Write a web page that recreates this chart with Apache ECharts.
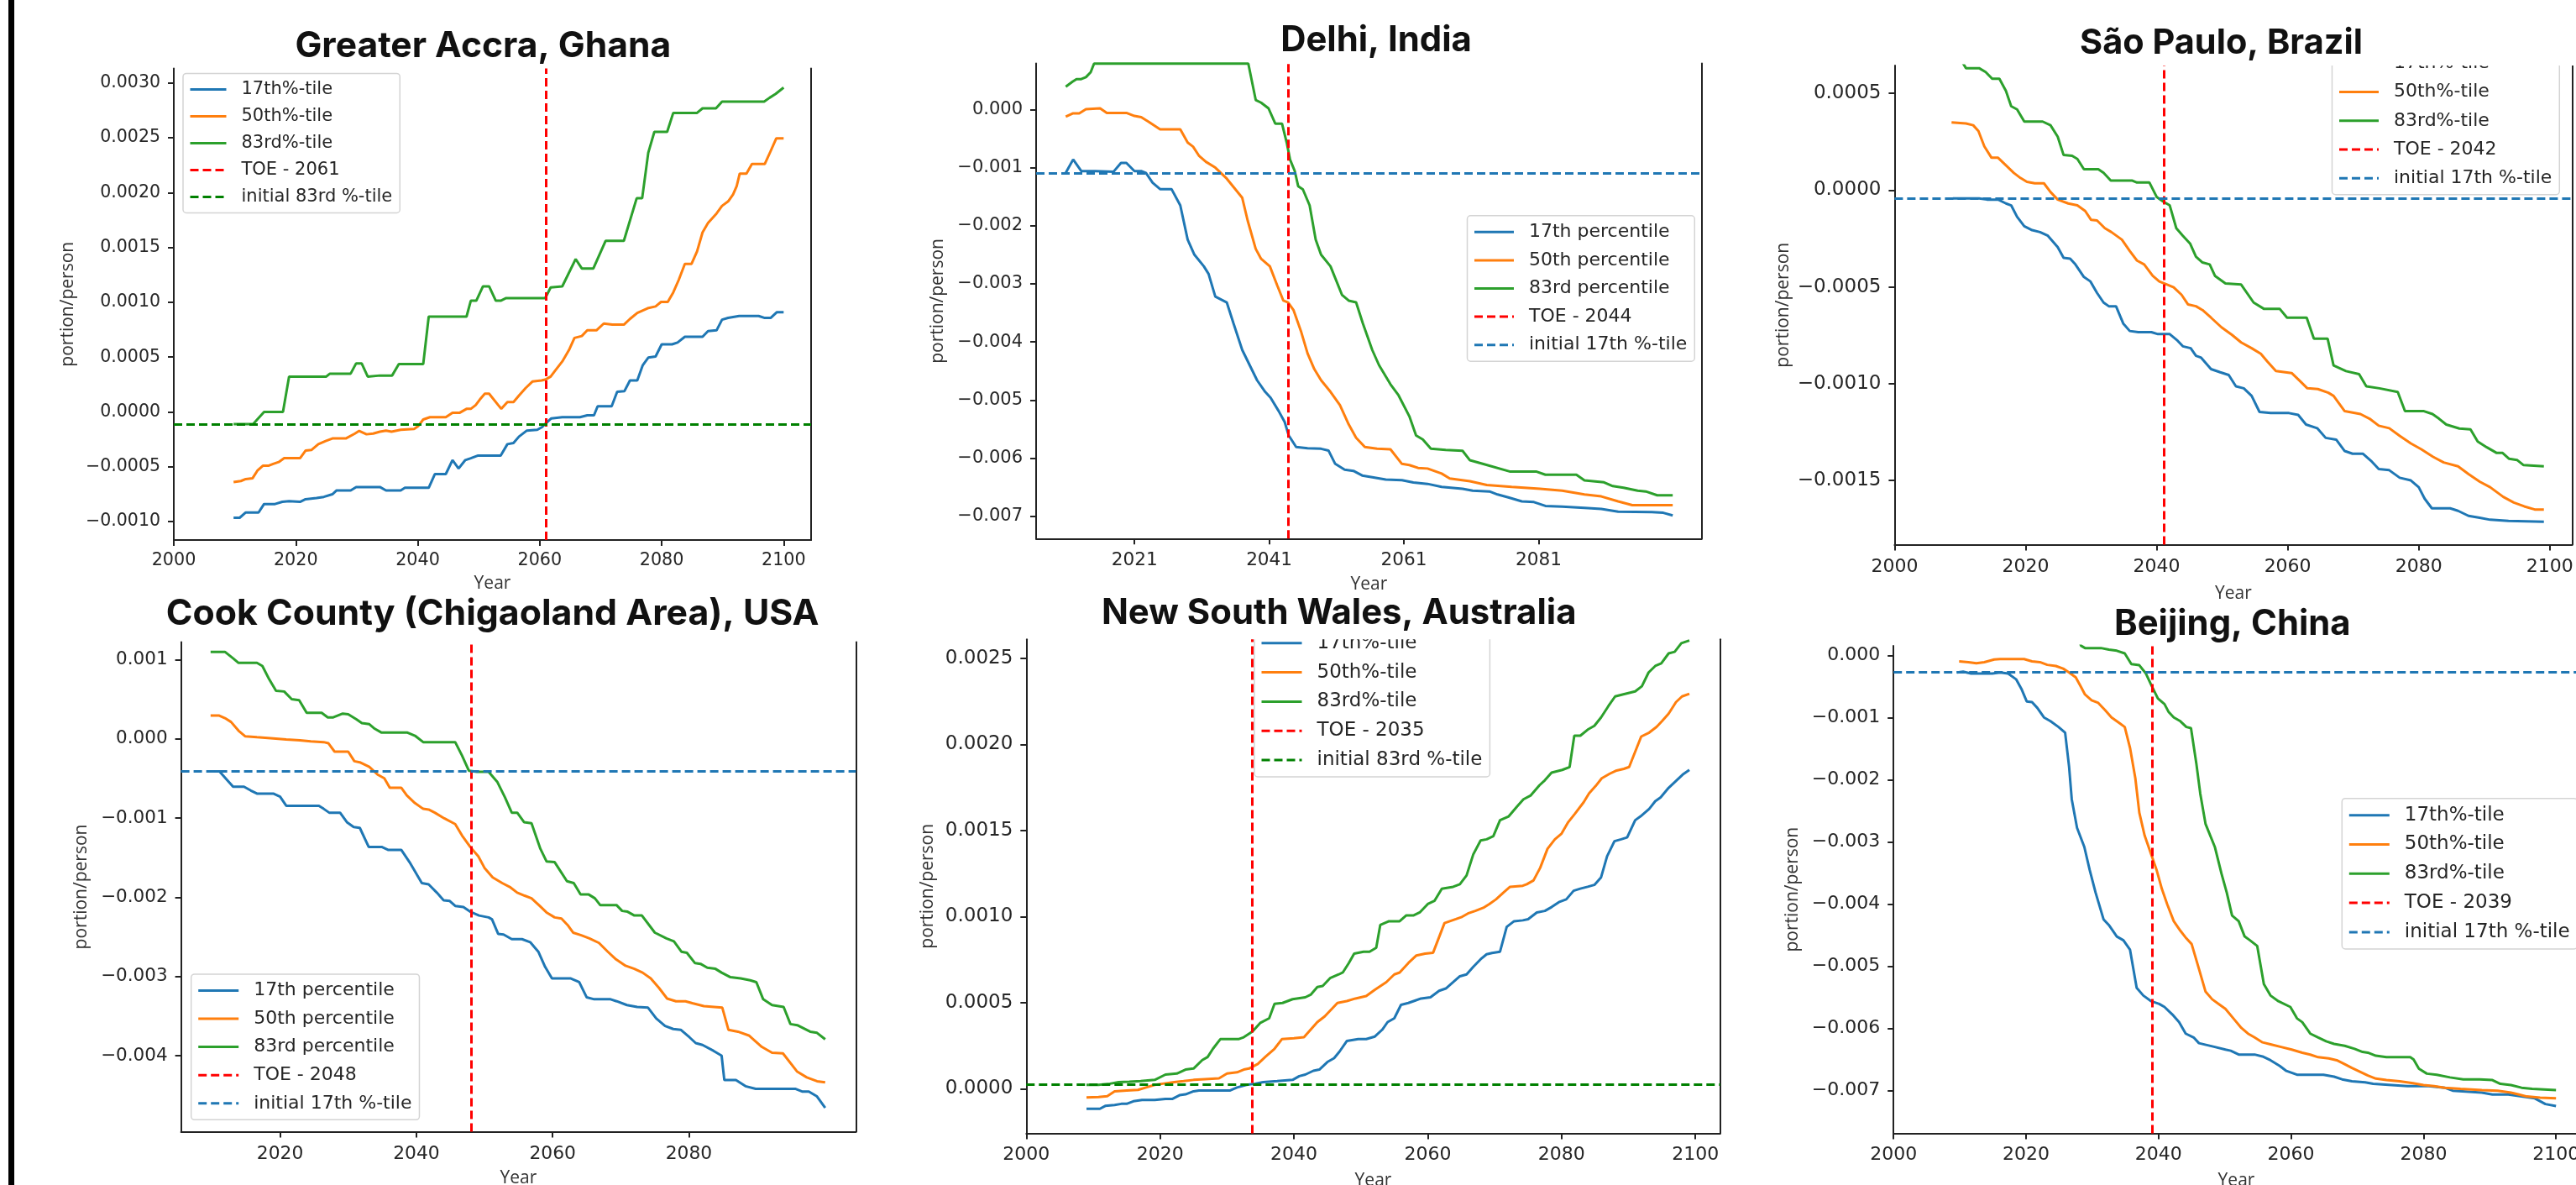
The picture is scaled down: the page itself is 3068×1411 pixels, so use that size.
<!DOCTYPE html>
<html><head><meta charset="utf-8">
<script src="https://cdn.jsdelivr.net/npm/echarts@6/dist/echarts.min.js"></script>
<style>html,body{margin:0;padding:0;background:#fff}#c{width:3068px;height:1411px}</style>
</head><body><div id="c"></div>
<script>
// ---------------- DATA ----------------
const titles = ['Greater Accra, Ghana','Delhi, India','São Paulo, Brazil','Cook County (Chigaoland Area), USA','New South Wales, Australia','Beijing, China'];
const pctNames = [
  ['17th%-tile','50th%-tile','83rd%-tile'],
  ['17th percentile','50th percentile','83rd percentile'],
  ['17th%-tile','50th%-tile','83rd%-tile'],
  ['17th percentile','50th percentile','83rd percentile'],
  ['17th%-tile','50th%-tile','83rd%-tile'],
  ['17th%-tile','50th%-tile','83rd%-tile']];
const toeYears = [2061, 2044, 2042, 2048, 2035, 2039];
const toeLineX = [2061, 2043.8, 2041.1, 2048, 2033.8, 2039.1];
const refNames = ['initial 83rd %-tile','initial 17th %-tile','initial 17th %-tile','initial 17th %-tile','initial 83rd %-tile','initial 17th %-tile'];
const refY = [-0.000111, -0.001093, -0.0000434, -0.000413, 0.0000224, -0.00027];
const xTicks = [
  [2000,2020,2040,2060,2080,2100],
  [2021,2041,2061,2081],
  [2000,2020,2040,2060,2080,2100],
  [2020,2040,2060,2080],
  [2000,2020,2040,2060,2080,2100],
  [2000,2020,2040,2060,2080,2100]];
const yTicks = [
  [-0.0010,-0.0005,0.0000,0.0005,0.0010,0.0015,0.0020,0.0025,0.0030],
  [-0.007,-0.006,-0.005,-0.004,-0.003,-0.002,-0.001,0.000],
  [-0.0015,-0.0010,-0.0005,0.0000,0.0005],
  [-0.004,-0.003,-0.002,-0.001,0.000,0.001],
  [0.0000,0.0005,0.0010,0.0015,0.0020,0.0025],
  [-0.007,-0.006,-0.005,-0.004,-0.003,-0.002,-0.001,0.000]];
const yDecimals = [4,3,4,3,4,3];

const accra17 = [[2009.8,-0.000965],[2010.8,-0.000965],[2011.8,-0.000917],[2013.9,-0.000917],[2014.8,-0.00084],[2016.6,-0.00084],[2017.8,-0.00082],[2018.9,-0.000813],[2020.7,-0.00082],[2021.6,-0.000796],[2023.4,-0.000785],[2024.6,-0.000775],[2026.0,-0.000751],[2026.7,-0.000716],[2029.0,-0.000716],[2029.9,-0.000685],[2033.8,-0.000685],[2034.8,-0.000716],[2037.2,-0.000716],[2037.9,-0.000692],[2041.8,-0.000692],[2042.8,-0.000567],[2044.6,-0.000567],[2045.7,-0.000439],[2046.7,-0.000516],[2047.8,-0.000439],[2048.7,-0.000422],[2049.9,-0.000398],[2053.6,-0.000398],[2054.7,-0.000294],[2055.7,-0.000284],[2056.6,-0.000225],[2057.9,-0.00017],[2059.6,-0.000163],[2060.4,-0.000138],[2061.0,-0.000104],[2061.9,-0.000059],[2063.7,-0.000048],[2066.6,-0.000048],[2067.8,-0.000031],[2068.9,-0.000031],[2069.5,0.000052],[2071.8,0.000052],[2072.7,0.000183],[2073.9,0.00019],[2074.8,0.000287],[2076.0,0.000287],[2076.9,0.000426],[2077.8,0.000495],[2079.0,0.000505],[2080.0,0.000616],[2081.7,0.000616],[2082.6,0.000633],[2083.8,0.000685],[2086.7,0.000685],[2087.6,0.000737],[2089.0,0.000744],[2089.9,0.000841],[2090.9,0.000858],[2092.7,0.000875],[2095.9,0.000875],[2096.8,0.000858],[2097.9,0.000858],[2098.9,0.00091],[2100.0,0.00091]];
const accra50 = [[2009.8,-0.00064],[2011.0,-0.00063],[2011.8,-0.000612],[2012.9,-0.000606],[2013.7,-0.000536],[2014.6,-0.000491],[2015.5,-0.000491],[2016.3,-0.000474],[2017.2,-0.000457],[2018.1,-0.000422],[2020.7,-0.000422],[2021.6,-0.000353],[2022.6,-0.000346],[2023.7,-0.000294],[2024.9,-0.000266],[2026.0,-0.000242],[2028.2,-0.000242],[2029.7,-0.000197],[2030.4,-0.000173],[2031.6,-0.000204],[2032.7,-0.000197],[2033.8,-0.00018],[2034.8,-0.00017],[2035.7,-0.00018],[2037.2,-0.000163],[2039.4,-0.000156],[2040.1,-0.000128],[2040.9,-0.000069],[2042.0,-0.000048],[2044.6,-0.000048],[2045.7,-0.000007],[2046.9,-0.000007],[2048.0,0.000028],[2048.7,0.000028],[2049.5,0.000062],[2050.2,0.000114],[2051.0,0.000166],[2051.7,0.000166],[2053.2,0.000062],[2053.7,0.000028],[2054.7,0.00009],[2055.7,0.00009],[2056.6,0.000149],[2057.7,0.000218],[2058.8,0.000277],[2060.3,0.000287],[2060.9,0.000294],[2061.8,0.000322],[2062.5,0.000374],[2063.7,0.00046],[2064.8,0.000564],[2065.7,0.000675],[2066.9,0.000692],[2067.8,0.000744],[2069.3,0.000744],[2070.5,0.000806],[2071.9,0.000796],[2073.8,0.000796],[2074.8,0.000848],[2076.0,0.000903],[2077.7,0.000945],[2079.0,0.000962],[2079.9,0.001003],[2081.0,0.001003],[2081.9,0.00109],[2082.8,0.001204],[2083.8,0.00135],[2084.9,0.00135],[2085.8,0.001464],[2086.7,0.001637],[2087.6,0.001723],[2089.0,0.00181],[2089.9,0.001879],[2090.9,0.00192],[2091.7,0.001983],[2092.3,0.002059],[2092.8,0.002173],[2093.9,0.002173],[2094.8,0.00226],[2096.9,0.00226],[2097.8,0.00237],[2098.8,0.002495],[2100.0,0.002495]];
const accra83 = [[2009.8,-0.000111],[2013.0,-0.000111],[2014.8,0.0],[2017.9,0.0],[2018.9,0.000322],[2025.0,0.000322],[2025.6,0.000349],[2029.0,0.000349],[2029.9,0.000443],[2030.8,0.000443],[2031.8,0.000322],[2033.8,0.000332],[2035.8,0.000332],[2036.9,0.000436],[2040.9,0.000436],[2041.8,0.000869],[2048.0,0.000869],[2048.7,0.001014],[2049.6,0.001014],[2050.7,0.001145],[2051.7,0.001145],[2052.8,0.001014],[2053.6,0.001014],[2054.5,0.001038],[2060.9,0.001038],[2061.8,0.001135],[2063.7,0.001145],[2065.9,0.001394],[2066.9,0.001308],[2068.8,0.001308],[2070.8,0.00156],[2073.8,0.00156],[2075.9,0.001948],[2076.8,0.001948],[2077.8,0.002363],[2078.8,0.002554],[2080.9,0.002554],[2081.9,0.002727],[2085.8,0.002727],[2086.7,0.002768],[2088.9,0.002768],[2089.9,0.00283],[2096.8,0.00283],[2097.7,0.002865],[2098.7,0.0029],[2100.0,0.002958]];

const delhi17 = [[2010.8,-0.00109],[2011.9,-0.00086],[2013.1,-0.00106],[2015.2,-0.00106],[2017.9,-0.00107],[2019.0,-0.00092],[2019.8,-0.00092],[2021.0,-0.00106],[2022.0,-0.00106],[2022.7,-0.00109],[2023.7,-0.00126],[2024.8,-0.00137],[2026.5,-0.00137],[2027.8,-0.00165],[2028.9,-0.00224],[2029.9,-0.0025],[2031.3,-0.0027],[2032.0,-0.00283],[2033.0,-0.00322],[2034.7,-0.00332],[2035.7,-0.00368],[2037.0,-0.00414],[2038.1,-0.0044],[2039.2,-0.00466],[2040.4,-0.00486],[2041.2,-0.00496],[2042.4,-0.00519],[2043.3,-0.00538],[2043.9,-0.00561],[2045.0,-0.00581],[2046.7,-0.00583],[2048.7,-0.00584],[2049.8,-0.00587],[2050.8,-0.0061],[2052.2,-0.0062],[2053.5,-0.00622],[2054.8,-0.0063],[2056.3,-0.00633],[2058.3,-0.00637],[2060.7,-0.00638],[2062.4,-0.00642],[2064.5,-0.006444],[2066.6,-0.006496],[2069.7,-0.006529],[2071.2,-0.006562],[2073.7,-0.006575],[2074.9,-0.006627],[2076.6,-0.00668],[2078.5,-0.006745],[2080.3,-0.006758],[2082.0,-0.006824],[2084.5,-0.006837],[2087.8,-0.006857],[2090.3,-0.006876],[2092.8,-0.006922],[2097.8,-0.006929],[2099.5,-0.006942],[2100.9,-0.006988]];
const delhi50 = [[2010.8,-0.000124],[2011.9,-0.000066],[2012.8,-0.000066],[2013.8,0.000007],[2015.9,0.00002],[2016.9,-0.000059],[2019.8,-0.000059],[2021.0,-0.000111],[2022.0,-0.000131],[2023.1,-0.00021],[2024.8,-0.00034],[2027.8,-0.00034],[2028.9,-0.00057],[2029.7,-0.00064],[2030.6,-0.0008],[2031.6,-0.0009],[2033.0,-0.001],[2034.7,-0.00119],[2037.0,-0.00152],[2037.8,-0.00191],[2039.0,-0.0024],[2039.8,-0.00257],[2041.1,-0.0027],[2042.2,-0.00303],[2043.1,-0.00329],[2043.8,-0.00332],[2044.6,-0.00345],[2045.7,-0.00381],[2046.7,-0.0042],[2047.7,-0.00447],[2048.7,-0.00466],[2050.1,-0.00486],[2051.5,-0.00509],[2052.8,-0.00542],[2053.9,-0.00565],[2055.2,-0.00581],[2057.0,-0.00584],[2059.0,-0.00585],[2060.7,-0.0061],[2061.8,-0.00612],[2063.1,-0.00617],[2064.5,-0.00618],[2066.6,-0.006267],[2067.8,-0.006352],[2070.8,-0.006398],[2073.3,-0.006464],[2077.0,-0.006496],[2081.2,-0.006529],[2084.5,-0.006562],[2087.8,-0.006627],[2090.3,-0.00666],[2092.8,-0.006745],[2094.9,-0.006811],[2100.9,-0.006811]];
const delhi83 = [[2010.8,0.000393],[2011.8,0.000478],[2012.4,0.000524],[2013.1,0.000524],[2013.8,0.000557],[2014.5,0.000642],[2015.0,0.00079],[2037.9,0.00079],[2039.0,0.000164],[2039.8,0.000118],[2040.9,0.00002],[2041.9,-0.000242],[2042.9,-0.000242],[2043.6,-0.00057],[2044.1,-0.000864],[2044.8,-0.00106],[2045.3,-0.00132],[2046.0,-0.001375],[2047.0,-0.00165],[2047.9,-0.00224],[2048.7,-0.0025],[2050.1,-0.0027],[2051.8,-0.00319],[2052.8,-0.00329],[2053.9,-0.00332],[2054.9,-0.00368],[2056.3,-0.00414],[2057.3,-0.0044],[2059.0,-0.00473],[2060.2,-0.00492],[2061.8,-0.00528],[2062.8,-0.00561],[2063.8,-0.00568],[2065.0,-0.00584],[2067.2,-0.00586],[2069.7,-0.005874],[2070.8,-0.006038],[2072.8,-0.006103],[2076.8,-0.006234],[2080.7,-0.006234],[2082.0,-0.006287],[2086.6,-0.006287],[2087.8,-0.006385],[2090.7,-0.006418],[2092.0,-0.006483],[2093.6,-0.00651],[2095.7,-0.006562],[2096.9,-0.006575],[2098.6,-0.006641],[2100.9,-0.006641]];

const sp17 = [[2008.9,-0.000043],[2012.9,-0.000043],[2014.1,-0.000049],[2015.8,-0.000049],[2017.0,-0.000069],[2017.8,-0.000079],[2018.7,-0.000138],[2019.8,-0.000187],[2021.0,-0.000207],[2022.2,-0.000217],[2023.4,-0.000236],[2024.9,-0.000295],[2025.8,-0.00035],[2026.8,-0.000354],[2027.6,-0.000384],[2028.9,-0.000449],[2029.9,-0.000472],[2030.9,-0.000531],[2031.9,-0.000581],[2032.7,-0.0006],[2033.8,-0.0006],[2034.9,-0.000689],[2035.9,-0.000728],[2037.2,-0.000734],[2039.2,-0.000734],[2040.2,-0.000744],[2042.0,-0.000744],[2043.2,-0.000778],[2044.0,-0.000807],[2045.2,-0.000817],[2046.0,-0.000856],[2046.8,-0.000866],[2048.3,-0.000925],[2049.7,-0.000941],[2051.0,-0.000955],[2052.1,-0.001014],[2053.3,-0.001024],[2054.5,-0.001063],[2055.7,-0.001146],[2057.4,-0.001152],[2060.2,-0.001152],[2061.6,-0.001161],[2062.8,-0.001211],[2064.5,-0.00123],[2065.8,-0.00128],[2067.4,-0.001289],[2068.7,-0.001348],[2069.9,-0.001362],[2071.5,-0.001362],[2072.7,-0.001398],[2073.9,-0.001441],[2075.5,-0.001447],[2077.1,-0.001486],[2078.8,-0.0015],[2080.0,-0.001535],[2080.9,-0.001594],[2082.0,-0.001644],[2084.8,-0.001644],[2086.0,-0.001657],[2087.6,-0.001683],[2089.3,-0.001693],[2090.9,-0.001703],[2093.7,-0.001709],[2099.1,-0.001713]];
const sp50 = [[2008.7,0.00035],[2010.9,0.000344],[2012.0,0.000335],[2012.8,0.000305],[2013.7,0.000226],[2014.8,0.000167],[2015.8,0.000167],[2017.0,0.000128],[2018.2,0.000089],[2019.2,0.000063],[2020.2,0.000043],[2021.4,0.000035],[2022.8,0.000035],[2023.8,-0.00001],[2024.9,-0.000049],[2026.5,-0.000069],[2027.9,-0.000079],[2029.1,-0.000108],[2030.0,-0.000154],[2030.9,-0.000157],[2032.1,-0.000197],[2033.1,-0.000217],[2034.7,-0.000256],[2035.9,-0.000315],[2037.0,-0.000364],[2038.1,-0.000384],[2039.4,-0.000443],[2040.4,-0.000472],[2041.6,-0.000488],[2042.6,-0.000502],[2043.8,-0.000541],[2044.8,-0.000591],[2046.0,-0.0006],[2047.0,-0.00062],[2048.3,-0.000659],[2049.9,-0.000709],[2051.5,-0.000748],[2052.9,-0.000787],[2054.5,-0.000817],[2055.9,-0.000846],[2056.9,-0.000886],[2058.2,-0.000935],[2060.6,-0.000945],[2061.8,-0.000984],[2063.0,-0.001024],[2064.6,-0.001028],[2066.2,-0.001047],[2067.0,-0.001063],[2068.7,-0.001142],[2071.1,-0.001157],[2072.5,-0.001181],[2073.9,-0.001217],[2075.5,-0.00123],[2077.1,-0.00127],[2078.8,-0.001309],[2080.4,-0.001339],[2082.2,-0.001378],[2083.8,-0.001407],[2086.0,-0.001427],[2087.6,-0.001467],[2089.3,-0.001506],[2090.9,-0.001535],[2092.9,-0.001585],[2094.5,-0.001614],[2096.1,-0.001634],[2097.7,-0.00165],[2099.1,-0.00165]];
const sp83 = [[2010.0,0.00068],[2010.9,0.00063],[2012.9,0.00063],[2013.9,0.00061],[2014.9,0.000575],[2016.0,0.000575],[2017.0,0.000512],[2017.8,0.000433],[2018.7,0.000417],[2019.8,0.000354],[2022.6,0.000354],[2023.8,0.000335],[2024.9,0.000276],[2025.8,0.000181],[2027.1,0.000177],[2027.9,0.000161],[2028.9,0.000108],[2031.1,0.000108],[2031.9,0.000089],[2033.0,0.000049],[2036.3,0.000049],[2037.0,0.000039],[2038.9,0.000039],[2040.0,-0.000035],[2041.0,-0.000059],[2042.0,-0.000079],[2043.0,-0.000197],[2044.0,-0.000236],[2045.1,-0.000276],[2046.0,-0.000344],[2047.0,-0.000374],[2048.1,-0.000384],[2048.9,-0.000443],[2050.5,-0.000482],[2052.9,-0.000488],[2054.8,-0.000581],[2056.4,-0.000614],[2058.8,-0.000614],[2059.9,-0.000659],[2062.9,-0.000659],[2064.0,-0.000768],[2066.1,-0.000768],[2067.0,-0.000906],[2068.9,-0.000935],[2070.9,-0.000951],[2072.0,-0.001014],[2074.0,-0.001024],[2076.8,-0.001043],[2077.9,-0.001142],[2080.8,-0.001142],[2082.1,-0.001157],[2083.1,-0.001181],[2084.2,-0.001211],[2086.2,-0.001232],[2087.9,-0.001236],[2089.0,-0.001299],[2090.4,-0.001329],[2091.9,-0.001358],[2092.8,-0.001358],[2093.8,-0.001388],[2095.0,-0.001394],[2096.0,-0.001421],[2099.1,-0.001427]];

const cook17 = [[2009.8,-0.000413],[2011.1,-0.000413],[2012.0,-0.0005],[2013.1,-0.000606],[2014.7,-0.000606],[2015.7,-0.000654],[2016.6,-0.000692],[2019.0,-0.000692],[2020.0,-0.000731],[2020.9,-0.000846],[2025.7,-0.000846],[2026.4,-0.000885],[2027.2,-0.000933],[2028.8,-0.000933],[2029.8,-0.001053],[2030.8,-0.001115],[2031.7,-0.001125],[2033.0,-0.001365],[2034.9,-0.001365],[2035.9,-0.001404],[2037.8,-0.001404],[2039.0,-0.001558],[2040.8,-0.001822],[2041.8,-0.001837],[2043.0,-0.001942],[2044.0,-0.002038],[2044.9,-0.002048],[2045.7,-0.00211],[2046.9,-0.002125],[2047.9,-0.002183],[2049.2,-0.002231],[2050.6,-0.002255],[2051.1,-0.002279],[2052.0,-0.002462],[2052.8,-0.002471],[2054.0,-0.002529],[2055.5,-0.002529],[2056.7,-0.002567],[2057.9,-0.002688],[2058.9,-0.00288],[2059.9,-0.003024],[2062.6,-0.003024],[2063.9,-0.003072],[2065.0,-0.003264],[2066.1,-0.003288],[2068.5,-0.003288],[2069.4,-0.003313],[2070.9,-0.003361],[2072.4,-0.003385],[2074.0,-0.003394],[2075.2,-0.003529],[2076.5,-0.003625],[2077.7,-0.003663],[2078.8,-0.003673],[2080.1,-0.003769],[2081.0,-0.003841],[2082.0,-0.003865],[2083.6,-0.003938],[2084.8,-0.004],[2085.2,-0.004308],[2086.9,-0.004308],[2088.3,-0.004385],[2089.8,-0.004418],[2095.6,-0.004418],[2096.6,-0.004452],[2097.6,-0.004452],[2098.8,-0.004514],[2100.0,-0.004659]];
const cook50 = [[2009.8,0.000293],[2011.0,0.000293],[2011.9,0.00026],[2012.8,0.000212],[2013.9,0.000101],[2014.9,0.000029],[2016.6,0.000019],[2019.0,0.000005],[2020.9,-0.00001],[2022.9,-0.000019],[2024.5,-0.000034],[2026.4,-0.000043],[2027.1,-0.000058],[2028.0,-0.000163],[2030.0,-0.000163],[2030.9,-0.000284],[2031.7,-0.000298],[2033.1,-0.000356],[2034.3,-0.000452],[2035.3,-0.0005],[2036.1,-0.00062],[2037.8,-0.00062],[2038.6,-0.000716],[2039.8,-0.000813],[2041.0,-0.000885],[2041.8,-0.000894],[2042.7,-0.000933],[2044.1,-0.001005],[2045.7,-0.001077],[2046.7,-0.001221],[2047.9,-0.001365],[2049.1,-0.001486],[2050.0,-0.00163],[2051.2,-0.00175],[2052.6,-0.001822],[2053.7,-0.00187],[2054.8,-0.001942],[2055.9,-0.001981],[2056.9,-0.002014],[2058.1,-0.00211],[2059.1,-0.002192],[2060.3,-0.002255],[2061.3,-0.00227],[2062.2,-0.002351],[2063.0,-0.002447],[2064.2,-0.002481],[2065.4,-0.002519],[2066.8,-0.002577],[2068.1,-0.002688],[2069.3,-0.002784],[2070.7,-0.002865],[2072.0,-0.002904],[2073.2,-0.002952],[2074.4,-0.003024],[2075.6,-0.003144],[2076.8,-0.003279],[2078.1,-0.003313],[2079.5,-0.003313],[2080.5,-0.003337],[2082.2,-0.003375],[2083.7,-0.003385],[2084.9,-0.003394],[2085.8,-0.003673],[2087.2,-0.003697],[2088.8,-0.003745],[2090.7,-0.003889],[2092.2,-0.003962],[2093.8,-0.003971],[2095.9,-0.004202],[2097.3,-0.004274],[2098.8,-0.004322],[2100.0,-0.004337]];
const cook83 = [[2009.8,0.001096],[2011.9,0.001096],[2013.1,0.001014],[2013.9,0.000957],[2016.6,0.000957],[2017.4,0.000918],[2018.4,0.00075],[2019.4,0.000606],[2020.6,0.000596],[2021.7,0.0005],[2022.8,0.000486],[2023.9,0.000327],[2026.1,0.000327],[2027.0,0.000269],[2027.8,0.000269],[2029.2,0.000317],[2030.0,0.000308],[2031.2,0.000245],[2032.0,0.000197],[2033.1,0.000183],[2033.9,0.000125],[2034.9,0.000077],[2038.7,0.000077],[2039.8,0.000038],[2041.0,-0.000043],[2045.7,-0.000043],[2046.7,-0.000212],[2047.7,-0.000404],[2048.9,-0.000418],[2050.6,-0.000418],[2051.9,-0.000548],[2053.0,-0.00074],[2054.0,-0.000933],[2054.8,-0.000933],[2055.8,-0.001053],[2056.9,-0.001067],[2058.2,-0.001389],[2059.1,-0.001548],[2060.3,-0.001558],[2062.1,-0.001798],[2063.1,-0.001822],[2064.1,-0.001966],[2065.3,-0.001966],[2066.2,-0.002014],[2067.0,-0.002101],[2069.4,-0.002101],[2070.2,-0.002173],[2071.0,-0.002183],[2072.0,-0.002231],[2073.1,-0.002231],[2075.0,-0.002447],[2076.7,-0.00252],[2077.8,-0.002558],[2078.9,-0.002688],[2079.7,-0.002702],[2080.9,-0.002832],[2081.7,-0.002841],[2082.7,-0.00289],[2083.9,-0.002904],[2084.8,-0.002952],[2086.1,-0.00301],[2087.6,-0.003024],[2089.0,-0.003048],[2089.9,-0.003072],[2090.9,-0.003288],[2092.2,-0.003361],[2093.9,-0.003385],[2094.9,-0.003601],[2095.9,-0.003615],[2097.8,-0.003697],[2098.8,-0.003712],[2100.0,-0.003793]];

const nsw17 = [[2009.0,-0.000117],[2011.0,-0.000117],[2011.8,-0.0001],[2013.2,-0.000095],[2014.2,-0.000088],[2015.0,-0.000088],[2016.0,-0.000073],[2017.3,-0.000066],[2019.2,-0.000066],[2020.8,-0.00006],[2021.8,-0.00006],[2022.9,-0.000038],[2023.8,-0.000033],[2025.0,-0.000015],[2025.8,-0.000011],[2030.4,-0.000011],[2031.5,0.000007],[2032.9,0.000022],[2034.2,0.000029],[2035.4,0.000038],[2037.5,0.000044],[2039.8,0.000051],[2040.8,0.000073],[2041.7,0.000082],[2042.9,0.000104],[2043.8,0.000111],[2045.0,0.000155],[2046.0,0.000177],[2046.8,0.000215],[2047.9,0.000277],[2049.6,0.000288],[2050.8,0.000288],[2052.1,0.000303],[2053.2,0.000343],[2054.0,0.000387],[2055.0,0.000409],[2056.0,0.000487],[2057.1,0.000498],[2057.9,0.000509],[2059.0,0.000524],[2060.4,0.000531],[2061.7,0.000569],[2062.7,0.000582],[2063.8,0.000619],[2064.8,0.000653],[2065.8,0.000664],[2066.8,0.000708],[2067.9,0.000752],[2068.8,0.000781],[2069.6,0.000788],[2070.8,0.000796],[2071.8,0.00094],[2072.9,0.000973],[2074.2,0.000978],[2075.0,0.000985],[2076.3,0.001024],[2077.5,0.001033],[2078.5,0.001055],[2079.6,0.001084],[2080.7,0.0011],[2081.8,0.00115],[2082.8,0.001162],[2083.9,0.001173],[2084.9,0.001184],[2085.9,0.001228],[2086.8,0.00135],[2087.9,0.001438],[2088.9,0.001449],[2089.8,0.00146],[2091.0,0.00156],[2091.8,0.001582],[2093.1,0.001626],[2094.0,0.00167],[2094.8,0.001692],[2096.0,0.001748],[2096.9,0.001781],[2098.1,0.001825],[2099.1,0.001852]];
const nsw50 = [[2009.0,-0.000051],[2010.8,-0.000049],[2012.1,-0.000044],[2013.2,-0.000016],[2015.0,-0.000011],[2016.7,-0.000007],[2017.9,0.000007],[2019.2,0.000022],[2020.4,0.000029],[2022.1,0.000038],[2023.5,0.000044],[2025.0,0.000051],[2026.7,0.000055],[2028.8,0.00006],[2030.0,0.000088],[2031.5,0.000095],[2032.5,0.000111],[2033.3,0.000117],[2034.6,0.000144],[2035.8,0.000188],[2037.1,0.000232],[2038.2,0.000288],[2040.0,0.000293],[2041.5,0.000299],[2042.5,0.000343],[2043.5,0.000387],[2044.6,0.00042],[2045.7,0.000465],[2046.5,0.000498],[2047.9,0.000509],[2049.2,0.000524],[2050.8,0.000538],[2052.1,0.000575],[2053.8,0.000619],[2055.0,0.000664],[2055.8,0.000675],[2057.1,0.00073],[2058.3,0.000774],[2059.6,0.000785],[2060.8,0.00079],[2062.5,0.000962],[2064.2,0.000985],[2065.0,0.000996],[2066.0,0.001018],[2067.1,0.001033],[2068.3,0.001051],[2069.2,0.001073],[2070.2,0.0011],[2071.3,0.001139],[2072.3,0.001173],[2074.2,0.001179],[2074.8,0.001188],[2075.8,0.00121],[2076.8,0.001283],[2077.9,0.001394],[2079.0,0.001449],[2080.0,0.001482],[2081.0,0.001549],[2082.0,0.001598],[2083.3,0.001664],[2084.1,0.001715],[2085.1,0.001759],[2086.0,0.001803],[2087.2,0.00183],[2088.1,0.001847],[2089.3,0.001858],[2090.1,0.001869],[2091.9,0.002046],[2093.1,0.002069],[2094.2,0.002102],[2095.0,0.002135],[2096.0,0.002179],[2097.1,0.002246],[2098.0,0.002279],[2099.1,0.002294]];
const nsw83 = [[2009.0,0.000022],[2010.8,0.000022],[2012.5,0.000029],[2013.8,0.000038],[2015.4,0.00004],[2017.1,0.000044],[2019.2,0.000051],[2020.8,0.000082],[2022.5,0.000088],[2023.8,0.000111],[2025.0,0.000117],[2026.3,0.000166],[2027.1,0.000184],[2027.9,0.000232],[2029.0,0.000288],[2031.7,0.000288],[2032.5,0.000299],[2033.8,0.000332],[2035.0,0.000383],[2036.3,0.000409],[2037.1,0.000493],[2038.3,0.000498],[2039.8,0.00052],[2041.7,0.000531],[2042.5,0.000546],[2043.5,0.000591],[2044.3,0.000597],[2045.4,0.000642],[2046.7,0.000664],[2047.3,0.000675],[2048.2,0.00073],[2049.0,0.000785],[2050.4,0.000796],[2051.3,0.000796],[2052.3,0.000819],[2052.9,0.000951],[2054.2,0.000973],[2055.8,0.000973],[2056.8,0.001007],[2057.9,0.001007],[2058.8,0.001024],[2060.0,0.001073],[2061.0,0.001091],[2062.1,0.001162],[2063.8,0.001173],[2064.8,0.001188],[2065.8,0.001239],[2066.8,0.001361],[2067.9,0.001442],[2068.8,0.001449],[2069.8,0.001467],[2070.8,0.00156],[2072.1,0.001582],[2073.3,0.001637],[2074.3,0.001681],[2075.4,0.001704],[2076.7,0.001763],[2077.5,0.001792],[2078.5,0.001836],[2080.1,0.001852],[2081.2,0.001869],[2081.9,0.002051],[2082.8,0.002051],[2083.9,0.002086],[2084.9,0.002108],[2085.9,0.002157],[2087.0,0.002223],[2088.0,0.002279],[2089.1,0.00229],[2091.0,0.002308],[2092.0,0.002338],[2093.0,0.002418],[2094.0,0.002456],[2094.9,0.002471],[2096.0,0.002529],[2096.9,0.002538],[2097.9,0.002588],[2099.1,0.002604]];

const bj17 = [[2009.6,-0.00027],[2010.5,-0.000258],[2011.7,-0.000288],[2014.9,-0.000288],[2016.1,-0.00027],[2017.3,-0.000288],[2018.5,-0.00038],[2019.3,-0.000533],[2020.1,-0.000736],[2020.9,-0.000748],[2021.7,-0.00084],[2022.7,-0.000993],[2023.7,-0.001055],[2024.9,-0.001147],[2025.9,-0.001238],[2026.5,-0.00179],[2026.9,-0.002311],[2027.7,-0.002771],[2028.8,-0.003078],[2029.6,-0.003446],[2030.5,-0.003814],[2031.7,-0.004243],[2032.5,-0.004335],[2033.7,-0.004519],[2034.7,-0.00458],[2035.7,-0.004733],[2036.7,-0.005346],[2037.7,-0.005469],[2038.9,-0.005561],[2040.1,-0.005604],[2040.9,-0.005653],[2042.1,-0.005776],[2043.1,-0.005898],[2044.1,-0.006082],[2045.3,-0.006144],[2046.1,-0.006236],[2047.3,-0.006266],[2048.5,-0.006297],[2050.1,-0.00634],[2050.9,-0.006358],[2052.1,-0.006419],[2054.5,-0.006419],[2055.7,-0.00645],[2056.9,-0.006511],[2058.3,-0.006603],[2059.3,-0.006683],[2060.9,-0.006744],[2064.9,-0.006744],[2066.5,-0.006775],[2067.7,-0.006818],[2069.2,-0.006849],[2071.2,-0.006867],[2072.4,-0.006891],[2075.2,-0.00691],[2077.6,-0.006928],[2080.8,-0.006928],[2083.2,-0.006953],[2084.4,-0.007],[2086.4,-0.007014],[2088.8,-0.007032],[2090.4,-0.007063],[2092.8,-0.007063],[2094.8,-0.007094],[2096.8,-0.007124],[2098.4,-0.007216],[2100.0,-0.007247]];
const bj50 = [[2009.9,-0.000092],[2011.3,-0.000104],[2012.5,-0.000123],[2013.7,-0.000104],[2015.2,-0.000061],[2016.1,-0.000055],[2019.7,-0.000055],[2020.9,-0.000092],[2022.1,-0.000104],[2023.2,-0.000147],[2024.5,-0.000166],[2025.6,-0.000208],[2026.5,-0.00027],[2027.5,-0.000349],[2028.3,-0.000503],[2028.9,-0.000625],[2029.9,-0.000717],[2030.9,-0.00076],[2031.9,-0.000871],[2032.9,-0.000993],[2034.1,-0.001085],[2034.9,-0.001147],[2035.7,-0.001484],[2036.5,-0.001974],[2037.1,-0.002526],[2037.9,-0.002894],[2038.9,-0.0032],[2039.7,-0.003446],[2040.5,-0.003752],[2041.3,-0.003998],[2042.3,-0.004273],[2043.3,-0.004427],[2044.2,-0.004549],[2045.0,-0.004641],[2046.1,-0.00504],[2047.1,-0.005408],[2048.1,-0.00553],[2049.3,-0.005622],[2050.1,-0.005684],[2051.3,-0.005837],[2052.5,-0.00599],[2053.5,-0.006082],[2054.5,-0.006144],[2055.7,-0.006223],[2056.9,-0.006254],[2058.5,-0.006297],[2060.1,-0.00634],[2061.7,-0.006389],[2062.9,-0.00642],[2064.1,-0.006462],[2065.7,-0.00648],[2066.9,-0.006511],[2068.1,-0.006573],[2069.2,-0.006634],[2070.4,-0.006695],[2071.6,-0.006757],[2072.8,-0.006806],[2074.4,-0.00683],[2076.4,-0.006849],[2078.4,-0.00688],[2080.0,-0.00691],[2081.6,-0.006928],[2083.2,-0.006953],[2085.6,-0.006971],[2088.8,-0.00699],[2091.2,-0.007],[2093.2,-0.007032],[2094.4,-0.007063],[2095.6,-0.007094],[2097.6,-0.007112],[2100.0,-0.007124]];
const bj83 = [[2027.6,0.0004],[2028.3,0.00016],[2028.9,0.000123],[2031.3,0.000123],[2032.5,0.000098],[2033.7,0.00008],[2034.9,0.000037],[2035.9,-0.000135],[2037.1,-0.000153],[2038.1,-0.000288],[2038.9,-0.000472],[2039.9,-0.000687],[2040.9,-0.000779],[2041.5,-0.000901],[2042.3,-0.000993],[2043.3,-0.001055],[2044.2,-0.001147],[2044.9,-0.001165],[2045.7,-0.001729],[2046.3,-0.002219],[2047.1,-0.002709],[2048.5,-0.003078],[2049.5,-0.003507],[2050.3,-0.003814],[2051.1,-0.004181],[2052.1,-0.004273],[2053.0,-0.004519],[2053.8,-0.00458],[2054.9,-0.004672],[2055.9,-0.005285],[2056.9,-0.005469],[2058.1,-0.005561],[2059.9,-0.005653],[2060.9,-0.005837],[2061.7,-0.005898],[2062.9,-0.006082],[2064.1,-0.006144],[2065.3,-0.006205],[2066.5,-0.006248],[2068.1,-0.006278],[2069.6,-0.006327],[2070.8,-0.006377],[2071.6,-0.006389],[2072.8,-0.006438],[2074.4,-0.006462],[2078.0,-0.006462],[2078.5,-0.006499],[2079.3,-0.006646],[2080.5,-0.006726],[2082.0,-0.006744],[2084.0,-0.006787],[2086.0,-0.006818],[2088.5,-0.006818],[2090.4,-0.00683],[2091.6,-0.006891],[2093.2,-0.00691],[2094.8,-0.006953],[2096.4,-0.006971],[2100.0,-0.00699]];

const panelData = [[accra17,accra50,accra83],[delhi17,delhi50,delhi83],[sp17,sp50,sp83],[cook17,cook50,cook83],[nsw17,nsw50,nsw83],[bj17,bj50,bj83]];

// ---------------- LAYOUT / STYLE ----------------
const L = [
 {left:207,  top:81.5,  width:759,   height:561.5, xmin:2000,   xmax:2104.5, ymin:-0.001168, ymax:0.003132, xfs:20.7, yfs:20.5, xm:14.6, xng:41.5, yng:115, tx:575.3, ty:55.3, tw:448,  lgL:218,   lgT:87.4,  lgIW:43, lgFs:21, lgLh:22, lgGap:10},
 {left:1234, top:75.6,  width:792.7, height:565.7, xmin:2006.4, xmax:2105.2, ymin:-0.007386, ymax:0.000792, xfs:21.6, yfs:21,   xm:14.9, xng:44.7, yng:106, tx:1639,  ty:48.7, tw:227.7,lgL:1747.5,lgT:256.8, lgIW:47, lgFs:22, lgLh:23, lgGap:10.6},
 {left:2256.4,top:77.9, width:806.9, height:570.7, xmin:2000,   xmax:2103.4, ymin:-0.001832, ymax:0.000644, xfs:22,   yfs:23,   xm:15.2, xng:48.4, yng:122, tx:2645.5,ty:52.1, tw:337,  lgL:2777.5,lgT:55.9,  lgIW:47, lgFs:22, lgLh:23, lgGap:11.2},
 {left:215.6,top:764.4, width:803.7, height:583.2, xmin:2005.46,xmax:2104.5, ymin:-0.00496,  ymax:0.001221, xfs:21.8, yfs:21.5, xm:15.9, xng:45.4, yng:108, tx:586.7, ty:731.3,tw:778,  lgL:227.7, lgT:1159.9,lgIW:48, lgFs:22, lgLh:23, lgGap:10.6},
 {left:1222.3,top:761.2,width:826.4, height:588.2, xmin:2000,   xmax:2103.7, ymin:-0.000259, ymax:0.002611, xfs:22,   yfs:23,   xm:15.3, xng:46,   yng:107, tx:1594.7,ty:730.8,tw:565.7,lgL:1494,  lgT:745.8, lgIW:48, lgFs:23, lgLh:24, lgGap:10.8},
 {left:2255.2,top:768.9,width:816.6, height:580.5, xmin:2000,   xmax:2103.5, ymin:-0.007686, ymax:0.00016,  xfs:22,   yfs:22,   xm:15.3, xng:46,   yng:110, tx:2658.8,ty:743.8,tw:281.6,lgL:2789.3,lgT:950.7, lgIW:48, lgFs:23, lgLh:24, lgGap:10.8}
];
const pctColors = ['#1f77b4','#ff7f0e','#2ca02c'];
const refColors = ['#008000','#1f77b4','#1f77b4','#1f77b4','#008000','#1f77b4'];
const AX = '#222222', TXT = '#262626';
const LW = 3, DASH = [10, 5];

const mctx = document.createElement('canvas').getContext('2d');
function fitFont(text, target, fam, weight) {
  mctx.font = weight + ' 100px ' + fam;
  return 100 * target / mctx.measureText(text).width;
}
const fmtY = (v, d) => (v < -1e-12 ? '\u2212' : '') + Math.abs(v).toFixed(d);

const grid=[], xAxis=[], yAxis=[], series=[], legend=[], title=[];
L.forEach((p, i) => {
  grid.push({left:p.left, top:p.top, width:p.width, height:p.height, containLabel:false, outerBoundsMode:'none', show:false});
  xAxis.push({type:'value', gridIndex:i, min:p.xmin, max:p.xmax, position:'bottom',
    axisLine:{show:true, onZero:false, lineStyle:{color:AX, width:2}},
    axisTick:{show:true, inside:false, length:7, customValues:xTicks[i], lineStyle:{color:AX, width:2}},
    axisLabel:{show:true, customValues:xTicks[i], margin:p.xm, fontFamily:'DejaVu Sans', fontSize:p.xfs, color:TXT, formatter:(v)=>String(Math.round(v))},
    splitLine:{show:false}, minorTick:{show:false},
    name:'Year', nameLocation:'middle', nameGap:p.xng,
    nameTextStyle:{fontFamily:'Open Sans', fontSize:21, color:'#333', verticalAlign:'top'}});
  yAxis.push({type:'value', gridIndex:i, min:p.ymin, max:p.ymax, position:'left',
    axisLine:{show:true, onZero:false, lineStyle:{color:AX, width:2}},
    axisTick:{show:true, inside:false, length:7, customValues:yTicks[i], lineStyle:{color:AX, width:2}},
    axisLabel:{show:true, customValues:yTicks[i], margin:16, fontFamily:'DejaVu Sans', fontSize:p.yfs, color:TXT, formatter:(v)=>fmtY(v, yDecimals[i])},
    splitLine:{show:false},
    name:'portion/person', nameLocation:'middle', nameGap:p.yng,
    nameTextStyle:{fontFamily:'Open Sans', fontSize:21, color:'#333'}});
  yAxis.push({type:'value', gridIndex:i, min:0, max:1, position:'right',
    axisLine:{show:true, onZero:false, lineStyle:{color:AX, width:2}},
    axisTick:{show:false}, axisLabel:{show:false}, splitLine:{show:false}});

  panelData[i].forEach((d, k) => {
    series.push({type:'line', name:pctNames[i][k], xAxisIndex:i, yAxisIndex:2*i, data:d,
      symbol:'none', showSymbol:false, clip:true, z:3,
      lineStyle:{color:pctColors[k], width:LW}, itemStyle:{color:pctColors[k]},
      emphasis:{disabled:true}});
  });
  const toeName = 'TOE - ' + toeYears[i];
  series.push({type:'line', name:toeName, xAxisIndex:i, yAxisIndex:2*i, data:[],
    symbol:'none', lineStyle:{color:'#ff0000', width:LW, type:DASH}, itemStyle:{color:'#ff0000'},
    markLine:{silent:true, precision:10, symbol:['none','none'], label:{show:false}, emphasis:{disabled:true},
      lineStyle:{color:'#ff0000', width:LW, type:DASH}, data:[{xAxis:toeLineX[i]}]}, z:4});
  series.push({type:'line', name:refNames[i], xAxisIndex:i, yAxisIndex:2*i, data:[],
    symbol:'none', lineStyle:{color:refColors[i], width:LW, type:DASH}, itemStyle:{color:refColors[i]},
    markLine:{silent:true, precision:10, symbol:['none','none'], label:{show:false}, emphasis:{disabled:true},
      lineStyle:{color:refColors[i], width:LW, type:DASH}, data:[{yAxis:refY[i]}]}, z:4});

  legend.push({show:true, orient:'vertical', left:p.lgL, top:p.lgT, itemWidth:p.lgIW, itemHeight:14,
    itemGap:p.lgGap, padding:[8,9,8,7], backgroundColor:'rgba(255,255,255,0.85)',
    borderColor:'#d4d4d4', borderWidth:1.5, borderRadius:4, selectedMode:false, z:4,
    data:[pctNames[i][0], pctNames[i][1], pctNames[i][2], toeName, refNames[i]],
    itemStyle:{opacity:0}, lineStyle:{width:LW},
    textStyle:{fontFamily:'DejaVu Sans', fontSize:p.lgFs, lineHeight:p.lgLh, color:TXT, padding:[0,0,0,13]}});

  const fs = fitFont(titles[i], p.tw, '"Inter"', 'bold');
  title.push({text:titles[i], left:p.tx, top:p.ty - fs/2, textAlign:'center', padding:0, z:6,
    textStyle:{fontFamily:'Inter', fontWeight:'bold', fontSize:fs, color:'#111111'}});
});

const option = {
  animation:false, backgroundColor:'#ffffff',
  grid, xAxis, yAxis, series, legend, title,
  graphic:[
    {type:'rect', shape:{x:10, y:0, width:7, height:1411}, style:{fill:'#000000'}, z:10},
    {type:'rect', shape:{x:2770, y:48, width:298, height:29.9}, style:{fill:'#ffffff'}, z:5},
    {type:'rect', shape:{x:1485, y:738, width:300, height:23.2}, style:{fill:'#ffffff'}, z:5}
  ]
};
const chart = echarts.init(document.getElementById('c'), null, {renderer:'canvas', width:3068, height:1411});
chart.setOption(option);
</script>
</body></html>
